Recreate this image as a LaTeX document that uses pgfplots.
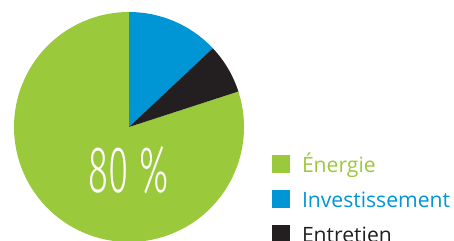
\documentclass[border=0pt]{standalone}
\usepackage{pgfplots}
\pgfplotsset{compat=1.18}
\usepackage{pgfplotstable}
\usepackage{fontspec}
\setmainfont{Open Sans}
\newfontfamily\thinfont[FakeStretch=0.56]{Fira Sans Light}
\definecolor{egreen}{HTML}{9BC93C}
\definecolor{eblue}{HTML}{0096D6}
\definecolor{eblack}{HTML}{231F20}
\pgfplotstableread{
label value
Investissement 13
Entretien 7
Energie 80
}\piedata
\pgfplotstablegetelem{0}{value}\of\piedata \let\vA\pgfplotsretval
\pgfplotstablegetelem{1}{value}\of\piedata \let\vB\pgfplotsretval
\pgfplotstablegetelem{2}{value}\of\piedata \let\vC\pgfplotsretval
\pgfmathsetmacro\aA{90-3.6*\vA}
\pgfmathsetmacro\aB{\aA-3.6*\vB}
\pgfmathsetmacro\aC{\aB-3.6*\vC}
\begin{document}
\begin{tikzpicture}
\useasboundingbox (0,0) rectangle (454bp,241bp);
\begin{axis}[
  x=1bp, y=1bp, xmin=0, xmax=454, ymin=0, ymax=241,
  at={(0,0)}, anchor=south west, hide axis, scale only axis,
  legend cell align=left,
  legend image code/.code={\fill[#1] (0bp,0bp) rectangle (18bp,18bp);},
  legend style={at={(axis cs:272,86.3)}, anchor=north west, draw=none, fill=none,
    inner sep=0pt, outer sep=0pt, row sep=11bp, column sep=12bp,
    font=\fontsize{21.2}{24}\selectfont,
    nodes={inner sep=0pt, outer sep=0pt, text height=18bp, text depth=6bp, anchor=base west}},
]
\fill[egreen] (axis cs:129,114) -- ++(\aB:115bp) arc[start angle=\aB, end angle=\aC, radius=115bp] -- cycle;
\fill[eblue] (axis cs:129,114) -- ++(90:115bp) arc[start angle=90, end angle=\aA, radius=115bp] -- cycle;
\fill[eblack] (axis cs:129,114) -- ++(\aA:115bp) arc[start angle=\aA, end angle=\aB, radius=115bp] -- cycle;
\node[text=white, anchor=base, inner sep=0pt] at (axis cs:129,48) {\thinfont\fontsize{66}{70}\selectfont 80\,\%};
\addlegendimage{fill=egreen, draw=none}
\addlegendentry{\textcolor{egreen}{Énergie}}
\addlegendimage{fill=eblue, draw=none}
\addlegendentry{\textcolor{eblue}{Investissement}}
\addlegendimage{fill=eblack, draw=none}
\addlegendentry{\textcolor{eblack}{Entretien}}
\end{axis}
\end{tikzpicture}
\end{document}
